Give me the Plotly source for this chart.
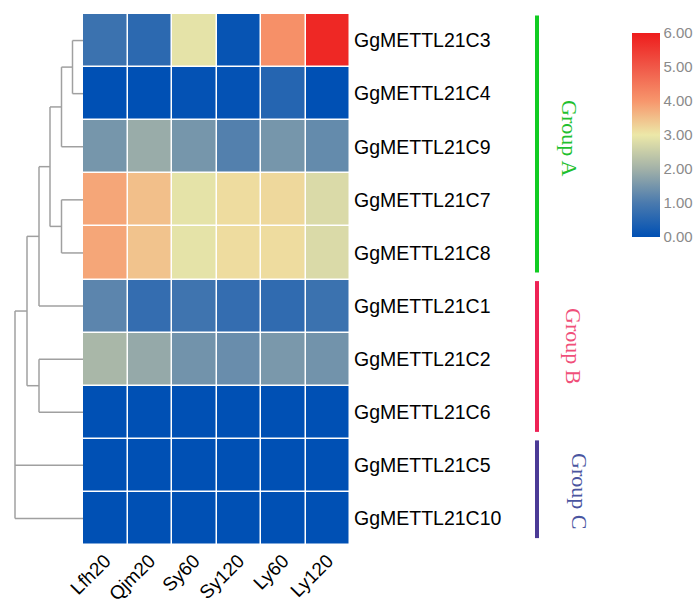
import plotly.graph_objects as go

# ---------------- data ----------------
samples = ["Lfh20", "Qjm20", "Sy60", "Sy120", "Ly60", "Ly120"]
genes = ["GgMETTL21C3", "GgMETTL21C4", "GgMETTL21C9", "GgMETTL21C7", "GgMETTL21C8",
         "GgMETTL21C1", "GgMETTL21C2", "GgMETTL21C6", "GgMETTL21C5", "GgMETTL21C10"]

c3 = [0.8, 0.6, 2.9, 0.1, 4.1, 5.8]
c4 = [0.0, 0.0, 0.05, 0.05, 0.5, 0.0]
c9 = [1.5, 1.9, 1.5, 1.1, 1.5, 1.3]
c7 = [3.8, 3.5, 2.9, 3.15, 3.2, 2.75]
c8 = [3.8, 3.45, 2.9, 3.15, 3.15, 2.75]
c1 = [1.2, 0.7, 0.85, 0.7, 0.65, 0.8]
c2 = [2.1, 1.85, 1.45, 1.35, 1.55, 1.45]
c6 = [0.0, 0.0, 0.0, 0.0, 0.0, 0.0]
c5 = [0.0, 0.0, 0.0, 0.0, 0.0, 0.0]
c10 = [0.0, 0.0, 0.0, 0.0, 0.0, 0.0]
values = [c3, c4, c9, c7, c8, c1, c2, c6, c5, c10]

# dendrogram merges: (children, height); leaves are row indices, nodes are "n<k>"
merge_children = [[0, 1], ["n0", 2], [3, 4], ["n1", "n2"], ["n3", 5], [6, 7], ["n4", "n5"], ["n6", 8, 9]]
merge_heights = [10.5, 21.5, 21.5, 33, 44, 44, 56, 68]

group_names = ["Group A", "Group B", "Group C"]
group_start = [0, 5, 8]
group_end = [4, 7, 9]

cb_ticks = [0, 1, 2, 3, 4, 5, 6]

# ---------------- styles ----------------
W, H = 697, 605
hm_left, hm_right, hm_top, hm_bottom = 83, 350, 14, 545
colorscale = [
    [0.0, "#0050b4"],
    [1 / 6, "#4a7aae"],
    [2 / 6, "#a2b1a8"],
    [3 / 6, "#ece8a8"],
    [4 / 6, "#f7966c"],
    [5 / 6, "#f05848"],
    [1.0, "#ee1c1c"],
]
bar_colors = ["#11cc22", "#ee2255", "#4b3a96"]
text_colors = ["#1fc02f", "#f0507a", "#4a55a0"]
text_px = [[570, 138], [574, 346], [580, 491]]
bar_x = 537

fig = go.Figure()

fig.add_trace(go.Heatmap(
    z=values, x=list(range(len(samples))), y=list(range(len(genes))),
    colorscale=colorscale, zmin=0, zmax=6, xgap=1.5, ygap=1.5,
    colorbar=dict(
        x=632 / W, xanchor="left", y=1 - 135 / H, yanchor="middle",
        thickness=28, thicknessmode="pixels", len=204, lenmode="pixels",
        tickvals=cb_ticks, tickformat=".2f", outlinewidth=0, xpad=0, ypad=0,
        tickfont=dict(family="Liberation Sans, Arial", size=15, color="#8a8a8a"),
    ),
    showscale=True, hoverinfo="skip",
))

# dendrogram
node_y = {}
node_h = {}
for i in range(len(genes)):
    node_y[i] = float(i)
    node_h[i] = 0.0
xs, ys = [], []
for k, (children, h) in enumerate(zip(merge_children, merge_heights)):
    cy = [node_y[c] for c in children]
    xs += [h, h, None]
    ys += [min(cy), max(cy), None]
    for c in children:
        xs += [node_h[c], h, None]
        ys += [node_y[c], node_y[c], None]
    name = "n%d" % k
    node_y[name] = (min(cy) + max(cy)) / 2 if len(children) == 2 else cy[0]
    node_h[name] = h
fig.add_trace(go.Scatter(x=xs, y=ys, xaxis="x2", yaxis="y", mode="lines",
                         line=dict(color="#a0a0a0", width=1.5), hoverinfo="skip",
                         showlegend=False))

fig.update_layout(
    width=W, height=H, margin=dict(l=0, r=0, t=0, b=0, autoexpand=False),
    paper_bgcolor="white", plot_bgcolor="white", showlegend=False,
    xaxis=dict(domain=[hm_left / W, hm_right / W], range=[-0.5, 5.5],
               tickvals=list(range(len(samples))), ticktext=samples, tickangle=-45,
               tickfont=dict(family="Liberation Sans, Arial", size=19, color="black"),
               showgrid=False, zeroline=False, showline=False, ticks="", automargin=False),
    yaxis=dict(domain=[1 - hm_bottom / H, 1 - hm_top / H], range=[9.5, -0.5],
               tickvals=list(range(len(genes))), ticktext=genes, side="right",
               tickfont=dict(family="Liberation Sans, Arial", size=19.5, color="black"),
               showgrid=False, zeroline=False, showline=False, ticks="", ticklabelstandoff=3,
               automargin=False),
    xaxis2=dict(domain=[0, hm_left / W], range=[hm_left, 0], anchor="y",
                visible=False, showgrid=False, zeroline=False, automargin=False),
)

shapes = []
annotations = []
for name, s, e, bc, tc, tp in zip(group_names, group_start, group_end, bar_colors, text_colors, text_px):
    shapes.append(dict(type="line", xref="paper", yref="y",
                       x0=bar_x / W, x1=bar_x / W, y0=s - 0.47, y1=e + 0.37,
                       line=dict(color=bc, width=4)))
    annotations.append(dict(text=name, xref="paper", yref="paper",
                            x=tp[0] / W, y=1 - tp[1] / H, showarrow=False, textangle=90,
                            xanchor="center", yanchor="middle",
                            font=dict(family="Liberation Serif, Times New Roman", size=22, color=tc)))
fig.update_layout(shapes=shapes, annotations=annotations)

fig.write_html("out.html", config={"displayModeBar": False},
               post_script="document.body.style.margin='0';")
